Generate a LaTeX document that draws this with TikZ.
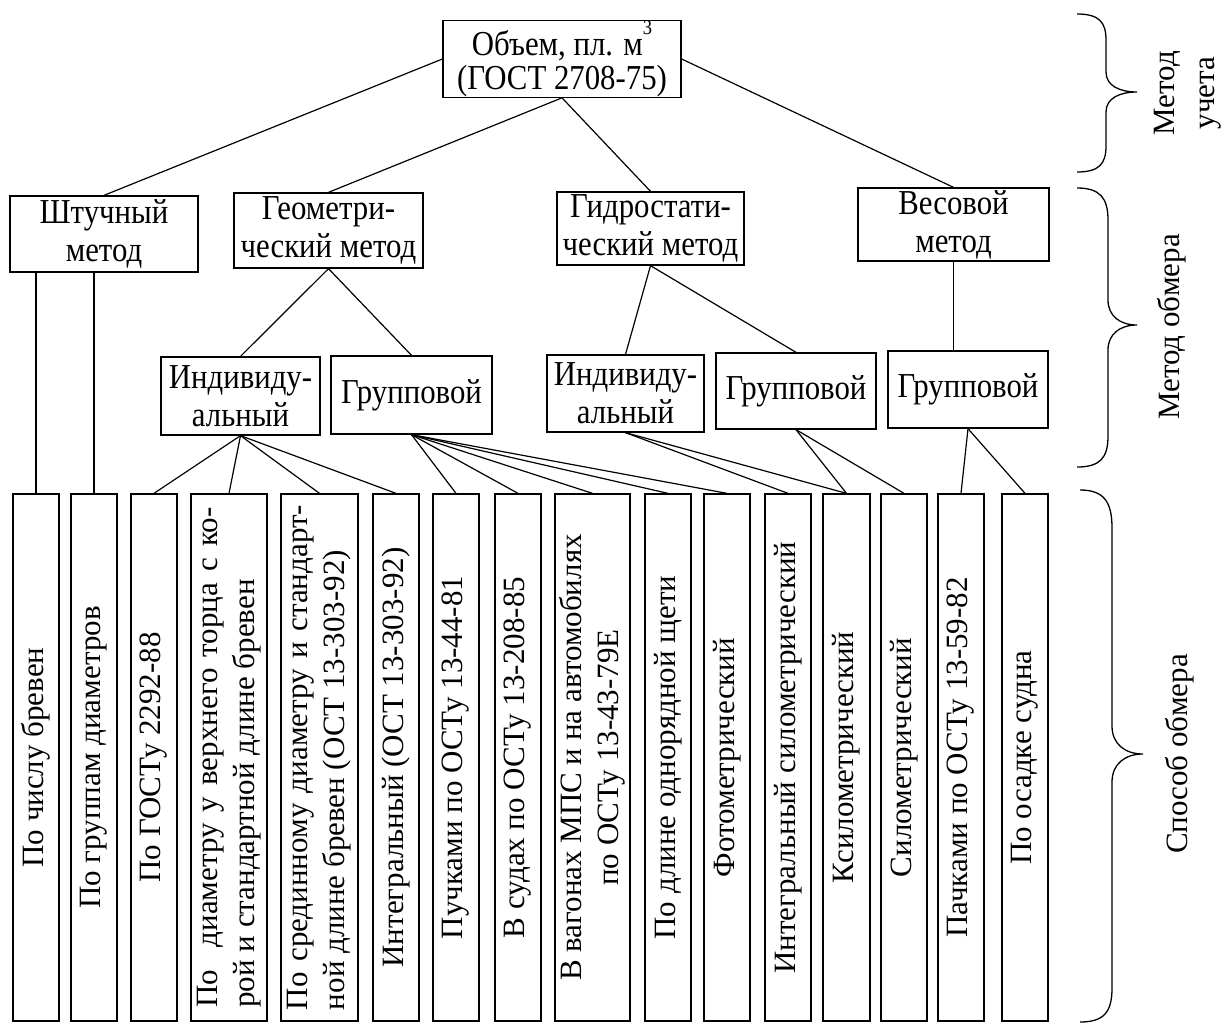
\documentclass[tikz,border=0pt]{standalone}
\usepackage{fontspec}
\setmainfont{Liberation Serif}
\newfontfamily\condfont{Liberation Serif}[FakeStretch=0.88]
\newcommand\myfs{\fontsize{31}{37}\selectfont}
\newcommand\hfs{\condfont\fontsize{35}{38}\selectfont}
\begin{document}
\begin{tikzpicture}[x=1pt,y=-1pt,
  box/.style={draw, line width=1.3pt, inner sep=0pt, align=center, font=\hfs},
  vbox/.style={draw, line width=1.3pt, inner sep=0pt, minimum height=527pt},
  vtext/.style={rotate=90, inner sep=0pt, font=\myfs},
  conn/.style={line width=1.2pt},
  brace/.style={line width=1.3pt},
  side/.style={rotate=90, inner sep=0pt, align=center, font=\myfs}]
\useasboundingbox (0,0) rectangle (1223,1025);
% top
\node[box, minimum width=238pt, minimum height=76pt, font=\condfont\fontsize{35}{34}\selectfont] (root) at (562,59) {Объем, пл. м\raisebox{0.6em}{\fontsize{21}{21}\selectfont 3}\\(ГОСТ 2708-75)};
% level 2
\node[box, minimum width=188pt, minimum height=76pt] (shtuch) at (104,234) {Штучный\\метод};
\node[box, minimum width=189pt, minimum height=75pt] (geom) at (328.5,230.5) {Геометри-\\ческий метод};
\node[box, minimum width=187pt, minimum height=73pt] (hydro) at (650.5,228.5) {Гидростати-\\ческий метод};
\node[box, minimum width=191pt, minimum height=73pt] (ves) at (953.5,224.5) {Весовой\\метод};
% level 3
\node[box, minimum width=159pt, minimum height=78pt] (gi) at (240.5,396) {Индивиду-\\альный};
\node[box, minimum width=161pt, minimum height=78pt] (gg) at (411.5,395) {Групповой};
\node[box, minimum width=157pt, minimum height=77pt] (hi) at (625.5,393.5) {Индивиду-\\альный};
\node[box, minimum width=160pt, minimum height=76pt] (hg) at (796,391) {Групповой};
\node[box, minimum width=160pt, minimum height=77pt] (vg) at (968,389.5) {Групповой};
% bottom boxes
\node[vbox, minimum width=46pt] (b1) at (36,757.5) {};
\node[vbox, minimum width=46pt] (b2) at (94,757.5) {};
\node[vbox, minimum width=46pt] (b3) at (154,757.5) {};
\node[vbox, minimum width=76pt] (b4) at (229,757.5) {};
\node[vbox, minimum width=77pt] (b5) at (319.5,757.5) {};
\node[vbox, minimum width=46pt] (b6) at (396,757.5) {};
\node[vbox, minimum width=46pt] (b7) at (456,757.5) {};
\node[vbox, minimum width=46pt] (b8) at (518,757.5) {};
\node[vbox, minimum width=75pt] (b9) at (592.5,757.5) {};
\node[vbox, minimum width=46pt] (b10) at (668,757.5) {};
\node[vbox, minimum width=46pt] (b11) at (727,757.5) {};
\node[vbox, minimum width=46pt] (b12) at (788,757.5) {};
\node[vbox, minimum width=47pt] (b13) at (846.5,757.5) {};
\node[vbox, minimum width=46pt] (b14) at (904,757.5) {};
\node[vbox, minimum width=46pt] (b15) at (961,757.5) {};
\node[vbox, minimum width=46pt] (b16) at (1025,757.5) {};
% bottom texts
\node[vtext] (t1) at (b1) {По числу бревен};
\node[vtext] (t2) at (b2) {По группам диаметров};
\node[vtext] (t3) at (b3) {По ГОСТу 2292-88};
\node[vtext, align=left] (t4) at (b4) {\makebox[500pt][s]{По\ \ диаметру у верхнего торца с ко-}\\рой и стандартной длине бревен};
\node[vtext, align=left] (t5) at (b5) {\makebox[505pt][s]{По срединному диаметру и стандарт-}\\ной длине бревен (ОСТ 13-303-92)};
\node[vtext] (t6) at (b6) {Интегральный (ОСТ 13-303-92)};
\node[vtext] (t7) at (b7) {Пучками по ОСТу 13-44-81};
\node[vtext] (t8) at (b8) {В судах по ОСТу 13-208-85};
\node[vtext, align=center] (t9) at (b9) {В вагонах МПС и на автомобилях\\по ОСТу 13-43-79Е};
\node[vtext] (t10) at (b10) {По длине однорядной щети};
\node[vtext] (t11) at (b11) {Фотометрический};
\node[vtext] (t12) at (b12) {Интегральный силометрический};
\node[vtext] (t13) at (b13) {Ксилометрический};
\node[vtext] (t14) at (b14) {Силометрический};
\node[vtext] (t15) at (b15) {Пачками по ОСТу 13-59-82};
\node[vtext] (t16) at (b16) {По осадке судна};
% connectors
\draw[conn] (root.west) -- (shtuch.north);
\draw[conn] (root.south) -- (geom.north);
\draw[conn] (root.south) -- (hydro.north);
\draw[conn] (root.east) -- (ves.north);
\draw[conn] (geom.south) -- (gi.north);
\draw[conn] (geom.south) -- (gg.north);
\draw[conn] (hydro.south) -- (hi.north);
\draw[conn] (hydro.south) -- (hg.north);
\draw[conn] (ves.south) -- (ves.south |- vg.north);
\draw[conn] (b1.north |- shtuch.south) -- (b1.north);
\draw[conn] (b2.north |- shtuch.south) -- (b2.north);
\foreach \b in {b3,b4,b5,b6} \draw[conn] (gi.south) -- (\b.north);
\foreach \b in {b7,b8,b9,b10,b11} \draw[conn] (gg.south) -- (\b.north);
\foreach \b in {b12,b13} \draw[conn] (hi.south) -- (\b.north);
\foreach \b in {b13,b14} \draw[conn] (hg.south) -- (\b.north);
\foreach \b in {b15,b16} \draw[conn] (vg.south) -- (\b.north);
% braces
\draw[brace] (1077,14) .. controls (1099,14) and (1106,22) .. (1106,40) -- (1106,72) .. controls (1106,86) and (1120,92) .. (1137,92) .. controls (1120,92) and (1106,98) .. (1106,112) -- (1106,146) .. controls (1106,164) and (1099,172) .. (1077,172);
\draw[brace] (1077,188) .. controls (1100,188) and (1108,198) .. (1108,220) -- (1108,300) .. controls (1108,316) and (1120,325) .. (1137,325) .. controls (1120,325) and (1108,334) .. (1108,350) -- (1108,436) .. controls (1108,458) and (1100,467) .. (1077,467);
\draw[brace] (1080,490) .. controls (1104,490) and (1112,502) .. (1112,528) -- (1112,726) .. controls (1112,744) and (1125,754) .. (1143,754) .. controls (1125,754) and (1112,764) .. (1112,782) -- (1112,988) .. controls (1112,1012) and (1104,1022) .. (1080,1022);
% side labels
\node[side, font=\fontsize{31}{40}\selectfont] (lab1) at (1188,93) {Метод\\учета};
\node[side] (lab2) at (1172,327) {Метод обмера};
\node[side] (lab3) at (1180,754) {Способ обмера};
\end{tikzpicture}
\end{document}
